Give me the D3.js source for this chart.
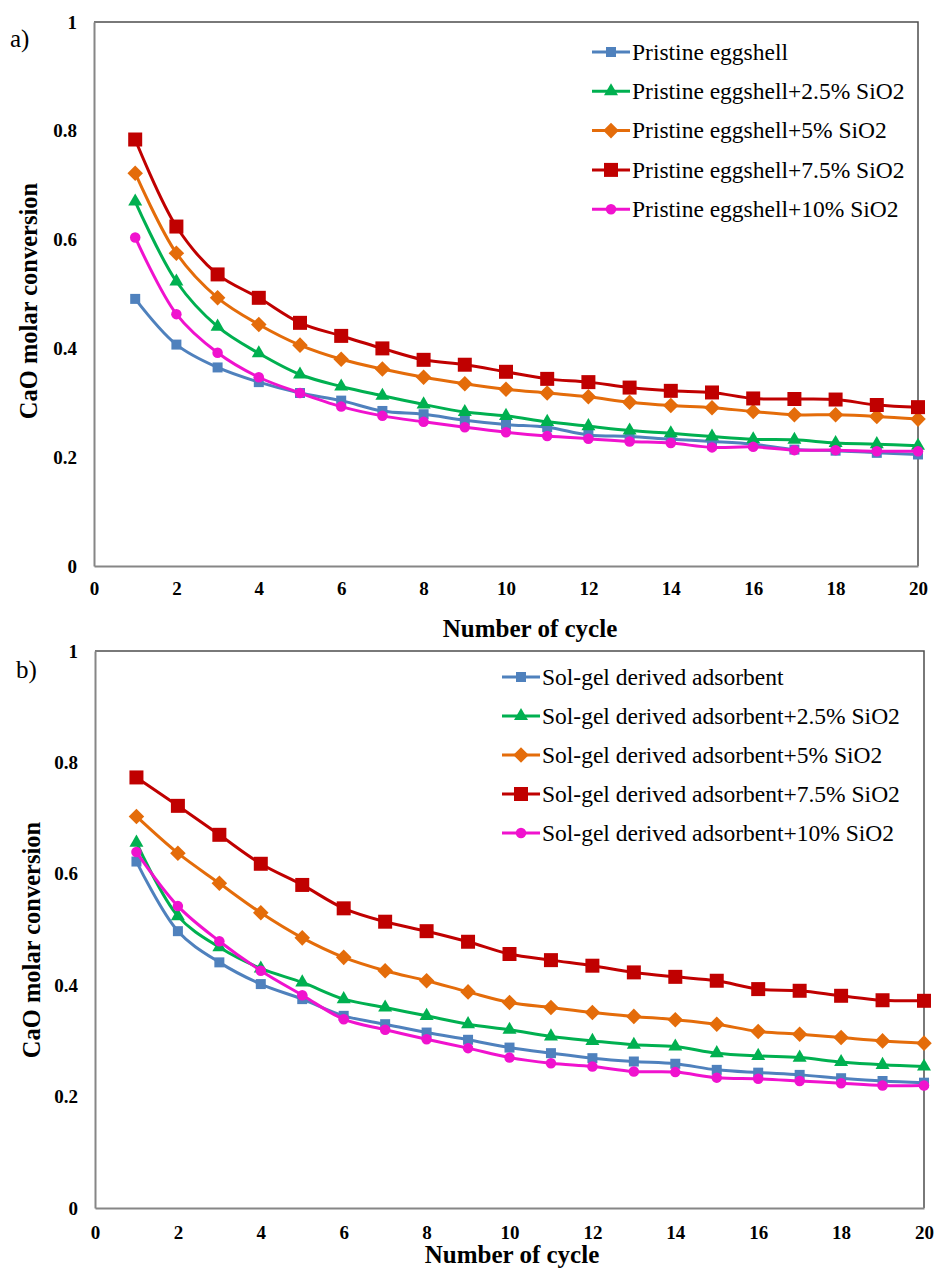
<!DOCTYPE html>
<html>
<head>
<meta charset="utf-8">
<script src="https://cdn.jsdelivr.net/npm/d3@7"></script>
<style>
  body { margin: 0; background: #fff; }
  svg { display: block; font-family: 'Liberation Serif', 'Times New Roman', serif; }
</style>
</head>
<body>
<div id="main-chart"></div>
<script>
// cycle numbers and axis ticks
let cycles = d3.range(1, 21);
let xTicks = [0, 2, 4, 6, 8, 10, 12, 14, 16, 18, 20];
let yTicks = [0, 0.2, 0.4, 0.6, 0.8, 1];

// a) pristine eggshell series
let eggLabels = ['Pristine eggshell', 'Pristine eggshell+2.5% SiO2', 'Pristine eggshell+5% SiO2',
                 'Pristine eggshell+7.5% SiO2', 'Pristine eggshell+10% SiO2'];
let egg0   = [0.491, 0.407, 0.365, 0.338, 0.318, 0.304, 0.285, 0.279, 0.268, 0.260,
              0.255, 0.241, 0.238, 0.233, 0.229, 0.224, 0.214, 0.212, 0.208, 0.205];
let egg25  = [0.670, 0.523, 0.440, 0.391, 0.352, 0.330, 0.313, 0.297, 0.283, 0.276,
              0.265, 0.257, 0.249, 0.244, 0.238, 0.233, 0.232, 0.226, 0.224, 0.221];
let egg5   = [0.722, 0.575, 0.493, 0.444, 0.406, 0.380, 0.362, 0.347, 0.335, 0.325,
              0.318, 0.311, 0.301, 0.295, 0.291, 0.284, 0.278, 0.278, 0.275, 0.270];
let egg75  = [0.784, 0.624, 0.536, 0.493, 0.447, 0.423, 0.400, 0.379, 0.370, 0.357,
              0.344, 0.338, 0.328, 0.322, 0.319, 0.308, 0.307, 0.306, 0.296, 0.292];
let egg10  = [0.604, 0.463, 0.392, 0.347, 0.318, 0.293, 0.276, 0.265, 0.255, 0.246,
              0.239, 0.234, 0.229, 0.226, 0.218, 0.219, 0.213, 0.213, 0.211, 0.211];

// b) sol-gel derived adsorbent series
let solLabels = ['Sol-gel derived adsorbent', 'Sol-gel derived adsorbent+2.5% SiO2', 'Sol-gel derived adsorbent+5% SiO2',
                 'Sol-gel derived adsorbent+7.5% SiO2', 'Sol-gel derived adsorbent+10% SiO2'];
let sol0   = [0.622, 0.497, 0.441, 0.402, 0.375, 0.345, 0.330, 0.315, 0.302, 0.288,
              0.278, 0.269, 0.263, 0.259, 0.248, 0.243, 0.239, 0.233, 0.228, 0.225];
let sol25  = [0.656, 0.524, 0.468, 0.430, 0.405, 0.375, 0.360, 0.345, 0.330, 0.320,
              0.308, 0.300, 0.293, 0.290, 0.278, 0.273, 0.270, 0.262, 0.257, 0.254];
let sol5   = [0.703, 0.637, 0.583, 0.530, 0.485, 0.450, 0.426, 0.408, 0.388, 0.369,
              0.360, 0.351, 0.344, 0.338, 0.330, 0.317, 0.312, 0.306, 0.300, 0.296];
let sol75  = [0.773, 0.722, 0.670, 0.618, 0.580, 0.538, 0.514, 0.497, 0.478, 0.456,
              0.445, 0.435, 0.423, 0.415, 0.408, 0.393, 0.390, 0.381, 0.373, 0.372];
let sol10  = [0.639, 0.542, 0.479, 0.426, 0.382, 0.339, 0.320, 0.303, 0.287, 0.270,
              0.260, 0.254, 0.245, 0.244, 0.234, 0.232, 0.228, 0.224, 0.220, 0.220];

// look of the five series (same in both panels)
let styles = [
  {color: '#4F81BD', shape: 'square',   size: 10},
  {color: '#00B050', shape: 'triangle', size: 14},
  {color: '#E46C0A', shape: 'diamond',  size: 11},
  {color: '#C00000', shape: 'square',   size: 14},
  {color: '#F012CE', shape: 'circle',   size: 10.5}
];

let svg = d3.select('#main-chart')
            .append('svg')
            .attr('width', 935)
            .attr('height', 1268);

function symbolPath(st){
  if(st.shape == 'square' || st.shape == 'diamond')
    return d3.symbol(d3.symbolSquare, st.size * st.size)();
  if(st.shape == 'triangle')
    return d3.symbol(d3.symbolTriangle, Math.sqrt(3) / 4 * st.size * st.size)();
  return d3.symbol(d3.symbolCircle, Math.PI * st.size * st.size / 4)();
}

function drawPanel(p){
  let x = d3.scaleLinear().domain([0, 20]).range([p.left, p.right]);
  let y = d3.scaleLinear().domain([0, 1]).range([p.bottom, p.top]);

  // plot area frame (top + right darker)
  svg.append('path')
     .attr('d', `M${p.left},${p.top}H${p.right}V${p.bottom}`)
     .attr('fill', 'none')
     .attr('stroke', '#4d4d4d')
     .attr('stroke-width', 1.5);

  // axes
  let yAxis = svg.append('g')
     .attr('transform', `translate(${p.left},0)`)
     .call(d3.axisLeft(y).tickValues(yTicks).tickSize(0).tickPadding(17).tickFormat(d3.format('')));
  let xAxis = svg.append('g')
     .attr('transform', `translate(0,${p.bottom})`)
     .call(d3.axisBottom(x).tickValues(xTicks).tickSize(0).tickPadding(p.xPad));

  [xAxis, yAxis].forEach(a => {
    a.select('.domain').attr('stroke', '#868686').attr('stroke-width', 2);
    a.selectAll('text')
     .attr('fill', '#000')
     .style('font-family', "'Liberation Serif', serif")
     .style('font-weight', 'bold')
     .style('font-size', '19px');
  });

  // axis titles
  svg.append('text')
     .attr('x', p.xTitleX)
     .attr('y', p.xTitleY)
     .attr('text-anchor', 'middle')
     .style('font-weight', 'bold')
     .style('font-size', '25px')
     .text('Number of cycle');

  svg.append('text')
     .attr('transform', `translate(${p.yTitleX},${p.yTitleY}) rotate(-90)`)
     .attr('text-anchor', 'middle')
     .style('font-weight', 'bold')
     .style('font-size', '24.5px')
     .text('CaO molar conversion');

  svg.append('text')
     .attr('x', p.tagX)
     .attr('y', p.tagY)
     .style('font-size', '25px')
     .text(p.tag);

  let line = d3.line()
               .x((d, i) => x(cycles[i]))
               .y(d => y(d))
               .curve(d3.curveCatmullRom);

  p.series.forEach((vals, k) => {
    let st = styles[k];
    let g = svg.append('g').attr('class', 'series');
    g.append('path')
     .attr('d', line(vals))
     .attr('fill', 'none')
     .attr('stroke', st.color)
     .attr('stroke-width', 3);
    g.selectAll('.mark')
     .data(vals)
     .join('path')
     .attr('class', 'mark')
     .attr('d', symbolPath(st))
     .attr('fill', st.color)
     .attr('transform', (d, i) => `translate(${x(cycles[i])},${y(d)})` + (st.shape == 'diamond' ? ' rotate(45)' : ''));
  });

  // legend
  let leg = svg.append('g')
               .selectAll('g')
               .data(p.labels)
               .join('g')
               .attr('transform', (d, i) => `translate(${p.legX},${p.legY + i * p.legStep})`);
  leg.append('line')
     .attr('x1', 0).attr('x2', 38)
     .attr('stroke', (d, i) => styles[i].color)
     .attr('stroke-width', 3);
  leg.append('path')
     .attr('d', (d, i) => symbolPath(styles[i]))
     .attr('fill', (d, i) => styles[i].color)
     .attr('transform', (d, i) => 'translate(19,0)' + (styles[i].shape == 'diamond' ? ' rotate(45)' : ''));
  leg.append('text')
     .attr('x', 40)
     .attr('dy', '0.33em')
     .style('font-size', '23.5px')
     .text(d => d);
}

drawPanel({
  left: 94, right: 918, top: 22, bottom: 566, xPad: 16,
  series: [egg0, egg25, egg5, egg75, egg10], labels: eggLabels,
  xTitleX: 530, xTitleY: 637, yTitleX: 37, yTitleY: 301,
  tag: 'a)', tagX: 10, tagY: 47,
  legX: 592, legY: 52, legStep: 39.3
});

drawPanel({
  left: 95, right: 924, top: 651, bottom: 1208, xPad: 18,
  series: [sol0, sol25, sol5, sol75, sol10], labels: solLabels,
  xTitleX: 512, xTitleY: 1263, yTitleX: 40, yTitleY: 940,
  tag: 'b)', tagX: 16, tagY: 678,
  legX: 502, legY: 677, legStep: 39
});
</script>
</body>
</html>
